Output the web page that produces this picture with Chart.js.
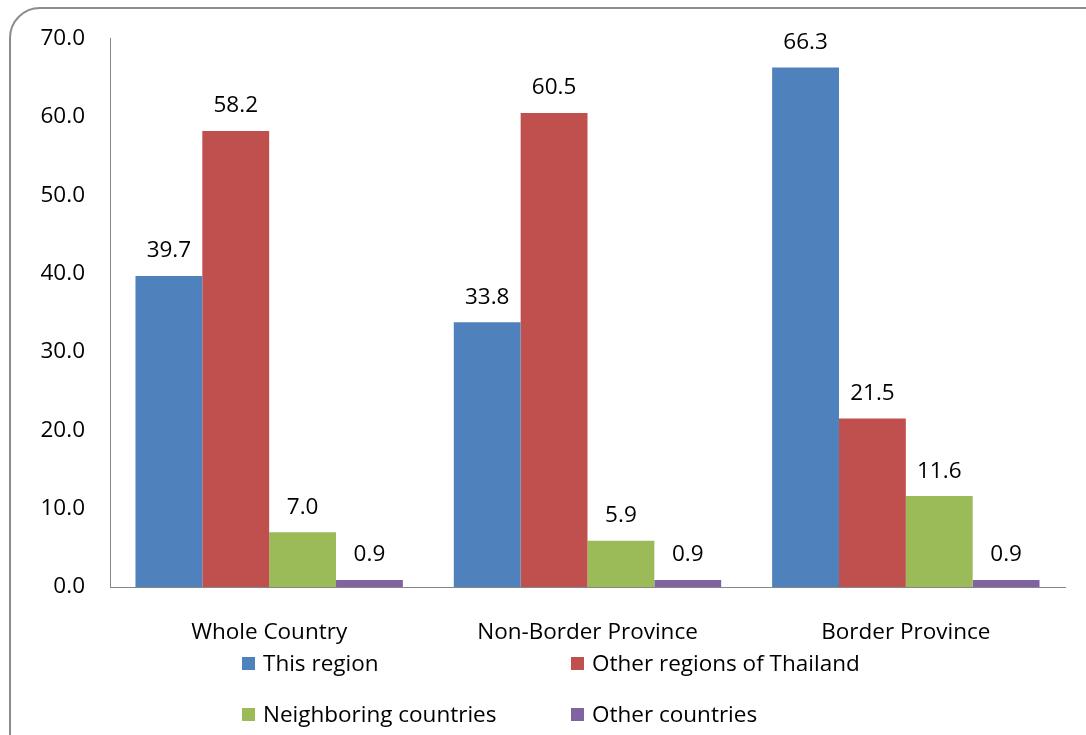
<!DOCTYPE html>
<html>
<head>
<meta charset="utf-8">
<script src="https://cdn.jsdelivr.net/npm/chart.js@4.4.0/dist/chart.umd.min.js"></script>
<style>
html,body{margin:0;padding:0;background:#fff;}
canvas{display:block;}
</style>
</head>
<body>
<canvas id="c" width="1086" height="735"></canvas>
<script>
const categories = ["Whole Country", "Non-Border Province", "Border Province"];
const seriesNames = ["This region", "Other regions of Thailand", "Neighboring countries", "Other countries"];
const thisRegion = [39.7, 33.8, 66.3];
const otherRegions = [58.2, 60.5, 21.5];
const neighboring = [7.0, 5.9, 11.6];
const otherCountries = [0.9, 0.9, 0.9];
const colors = ["#4F81BD", "#C0504D", "#9BBB59", "#8064A2"];

const FONT = "'Open Sans'";
const FS = 22.5;

const framePlugin = {
  id: 'frame',
  beforeDraw(chart) {
    const ctx = chart.ctx;
    ctx.save();
    ctx.fillStyle = '#fff';
    ctx.fillRect(0, 0, chart.width, chart.height);
    ctx.strokeStyle = '#8c8c8c';
    ctx.lineWidth = 2;
    ctx.beginPath();
    ctx.roundRect(10, 8, 1120, 780, 30);
    ctx.stroke();
    ctx.restore();
  }
};

const labelPlugin = {
  id: 'vals',
  afterDatasetsDraw(chart) {
    const ctx = chart.ctx;
    ctx.save();
    ctx.font = FS + "px " + FONT;
    ctx.fillStyle = '#000';
    ctx.textAlign = 'center';
    ctx.textBaseline = 'middle';
    chart.data.datasets.forEach((ds, i) => {
      const meta = chart.getDatasetMeta(i);
      meta.data.forEach((bar, j) => {
        ctx.fillText(ds.data[j].toFixed(1), bar.x, bar.y - 25);
      });
    });
    ctx.restore();
  }
};

const legendPlugin = {
  id: 'legend2',
  afterDraw(chart) {
    const ctx = chart.ctx;
    const cols = [242, 571];
    const rows = [665, 716];
    ctx.save();
    ctx.font = FS + "px " + FONT;
    ctx.textBaseline = 'middle';
    ctx.textAlign = 'left';
    chart.data.datasets.forEach((ds, i) => {
      const x = cols[i % 2], y = rows[Math.floor(i / 2)];
      ctx.fillStyle = ds.backgroundColor;
      ctx.fillRect(x, y - 8, 13, 13);
      ctx.fillStyle = '#000';
      ctx.fillText(ds.label, x + 21, y);
    });
    ctx.restore();
  }
};

const seriesData = [thisRegion, otherRegions, neighboring, otherCountries];

new Chart(document.getElementById('c'), {
  type: 'bar',
  data: {
    labels: categories,
    datasets: seriesNames.map((n, i) => ({
      label: n,
      data: seriesData[i],
      backgroundColor: colors[i],
      borderWidth: 0,
      barPercentage: 1.0,
      categoryPercentage: 0.84
    }))
  },
  options: {
    responsive: false,
    animation: false,
    layout: { padding: { top: 38, right: 21, left: 0, bottom: 0 } },
    plugins: { legend: { display: false }, tooltip: { enabled: false } },
    scales: {
      x: {
        grid: { display: false, drawTicks: false },
        border: { display: true, color: '#868686', width: 1 },
        ticks: { color: '#000', font: { family: "Open Sans", size: FS }, padding: 32, maxRotation: 0 },
        afterFit(s) { s.height = 148; }
      },
      y: {
        min: 0, max: 70,
        grid: { display: false, drawTicks: false },
        border: { display: true, color: '#868686', width: 1 },
        ticks: { stepSize: 10, color: '#000', font: { family: "Open Sans", size: FS }, padding: 25,
          callback: v => Number(v).toFixed(1) },
        afterFit(s) { s.width = 110; }
      }
    }
  },
  plugins: [framePlugin, labelPlugin, legendPlugin]
});
</script>
</body>
</html>
